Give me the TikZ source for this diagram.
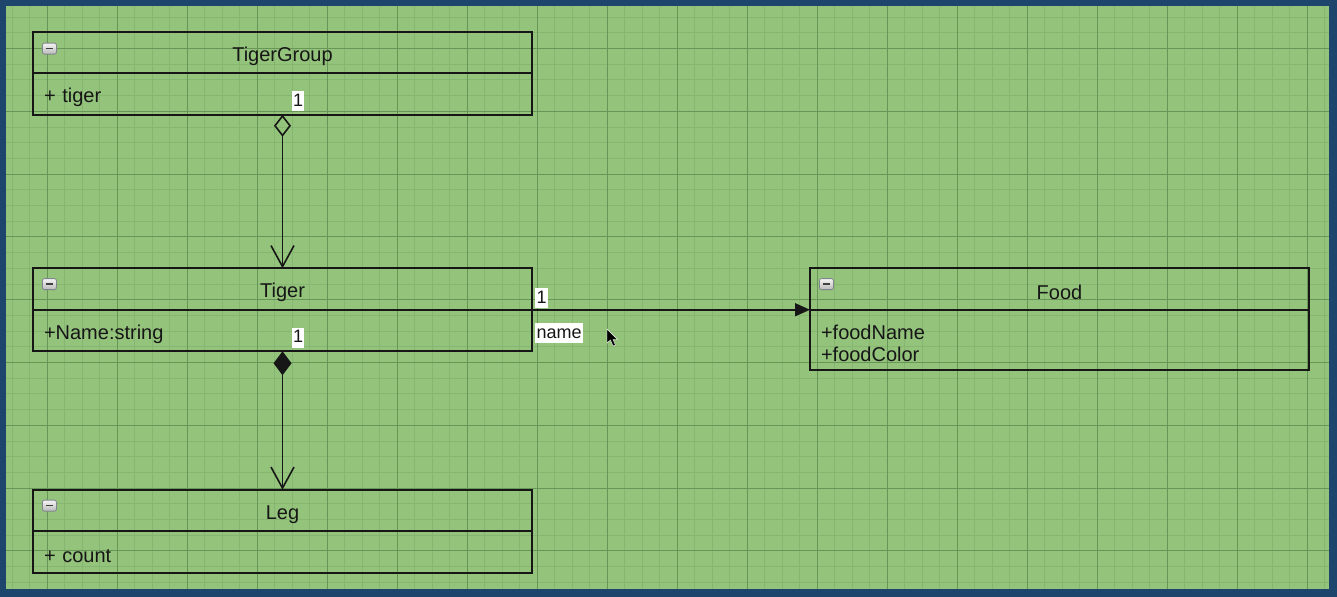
\documentclass[tikz,border=0pt]{standalone}
\usepackage{fontspec}
\setmainfont{Liberation Sans}
\usetikzlibrary{arrows.meta,positioning}
\definecolor{framecol}{RGB}{30,70,108}
\definecolor{paper}{RGB}{148,196,124}
\definecolor{gridminor}{RGB}{134,182,114}
\definecolor{gridmajor}{RGB}{104,150,86}
\definecolor{ink}{RGB}{22,22,22}

\begin{document}
\begin{tikzpicture}[
  x=0.5pt,y=-0.5pt,
  head/.style={draw=ink,line width=0.9pt,outer sep=0pt,inner sep=0pt,
               minimum width=249.5pt,minimum height=20.75pt,text height=11pt,
               font=\fontsize{10}{11}\selectfont,text=ink},
  attr/.style={head,text width=238.5pt,inner xsep=5.5pt,align=left},
  fold/.style={draw={rgb,255:red,130;green,132;blue,142},rounded corners=1pt,
               top color=white!92!gray,bottom color=gray!55,
               minimum width=7pt,minimum height=5.5pt,inner sep=0pt,anchor=north west,
               path picture={\draw[line width=0.7pt,black!75]
                 ([xshift=1.6pt]path picture bounding box.west) --
                 ([xshift=-1.6pt]path picture bounding box.east);}},
  mult/.style={fill=white,inner xsep=0.6pt,inner ysep=1pt,text height=6.5pt,text depth=1.5pt,
               font=\fontsize{9}{10}\selectfont,text=ink},
  conn/.style={draw=ink,line width=0.8pt},
  aggr/.style={conn,{Diamond[open,length=11pt,width=8.5pt]}-{Straight Barb[length=10.5pt,width=11.5pt]}},
  comp/.style={conn,{Diamond[length=12pt,width=9pt]}-{Straight Barb[length=10.5pt,width=11.5pt]}},
  assoc/.style={conn,-{Triangle[length=7.5pt,width=6.5pt]}}
]
\useasboundingbox (0,0) rectangle (1337,597);
% canvas and grid
\fill[framecol] (0,0) rectangle (1337,597);
\fill[paper] (6,6) rectangle (1329,589);
\begin{scope}
  \clip (6,6) rectangle (1329,589);
  \foreach \gx in {12,29.5,...,1330} \draw[gridminor,line width=0.35pt] (\gx,6) -- (\gx,589);
  \foreach \gy in {1.3,17,...,590} \draw[gridminor,line width=0.35pt] (6,\gy) -- (1329,\gy);
  \foreach \gx in {47,117,...,1330} \draw[gridmajor,line width=0.45pt] (\gx,6) -- (\gx,589);
  \foreach \gy in {48.4,111.2,...,590} \draw[gridmajor,line width=0.45pt] (6,\gy) -- (1329,\gy);
\end{scope}

% classes
\node[head] (tgroup) at (282.5,52.5) {TigerGroup};
\node[attr,below=0pt of tgroup] (tgroupattr) {+ tiger};
\node[head] (tiger) at (282.5,289) {Tiger};
\node[attr,below=0pt of tiger] (tigerattr) {+Name:string};
\node[head] (leg) at (282.5,510.5) {Leg};
\node[attr,below=0pt of leg] (legattr) {+ count};
\node[head] (food) at (1059.5,289) {Food};
\node[attr,below=0pt of food,minimum height=30pt] (foodattr) {+foodName\\+foodColor};

\node[fold] (tgroupfold) at ([shift={(9,11)}]tgroup.north west) {};
\node[fold] (tigerfold) at ([shift={(9,10)}]tiger.north west) {};
\node[fold] (legfold) at ([shift={(9,10)}]leg.north west) {};
\node[fold] (foodfold) at ([shift={(9,10)}]food.north west) {};

% relations
\draw[aggr] (tgroupattr.south) -- (tiger.north);
\draw[comp] (tigerattr.south) -- (leg.north);
\draw[assoc] (tiger.south east) -- (food.south west);

\node[mult,anchor=south west] (tgmult) at ([shift={(9,-3)}]tgroupattr.south) {1};
\node[mult,anchor=south west] (legmult) at ([shift={(9,-3)}]tigerattr.south) {1};
\node[mult,anchor=south west] (foodmult) at ([shift={(3,-1)}]tiger.south east) {1};
\node[mult,anchor=north west] (foodrole) at ([shift={(3,13)}]tiger.south east) {name};

% pointer
\filldraw[black,draw=white,line width=0.2pt] (607,329) -- (607,343) -- (610.5,340) -- (613,346)
  -- (615.5,345) -- (613,339.5) -- (617.5,339.5) -- cycle;
\end{tikzpicture}
\end{document}
